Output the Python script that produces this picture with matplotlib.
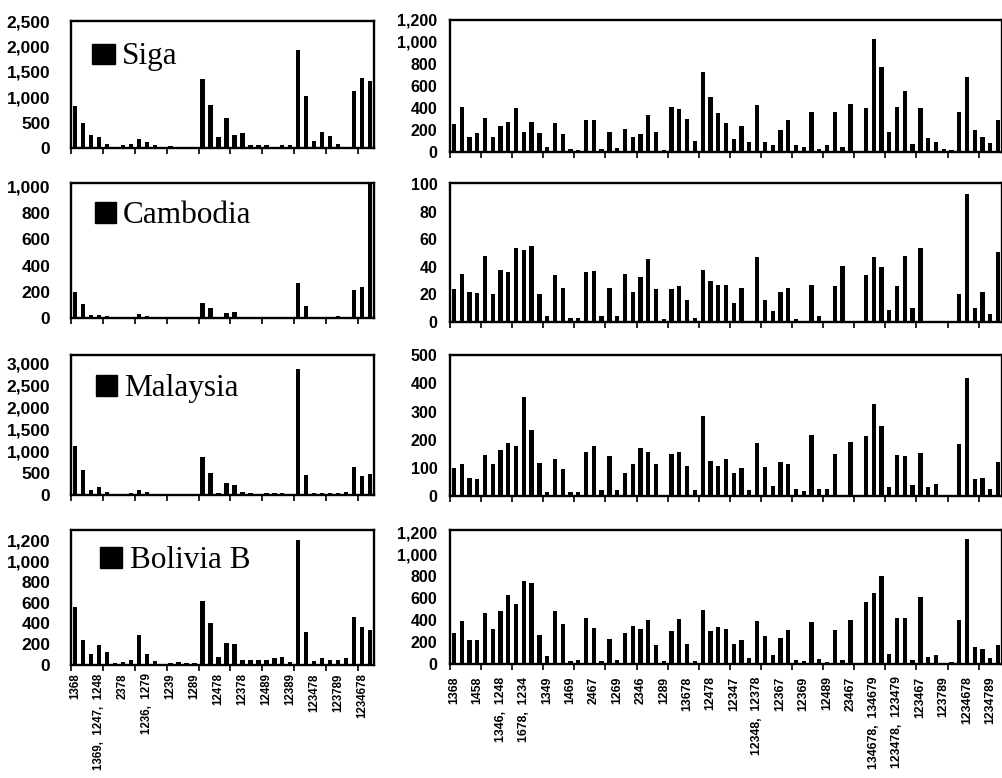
import matplotlib
matplotlib.use("Agg")
import matplotlib.pyplot as plt
from matplotlib.patches import Rectangle
from matplotlib.ticker import FixedLocator, FuncFormatter

W, H = 1003, 778
fig = plt.figure(figsize=(W / 100, H / 100), dpi=100)

countries = ["Siga", "Cambodia", "Malaysia", "Bolivia B"]

left_labels = ["1368", "1369,  1247,  1248", "2378", "1236,  1279", "1239", "1289",
               "12478", "12378", "12489", "12389", "123478", "123789", "1234678"]
right_labels = ["1368", "1458", "1346,  1248", "1678,  1234", "1349", "1469", "2467",
                "1269", "2346", "1289", "13678", "12478", "12347", "12348,  12378",
                "12367", "12369", "12489", "23467", "134678,  134679",
                "123478,  123479", "123467", "123789", "1234678", "1234789"]

siga_left = [830, 500, 250, 220, 80, 20, 50, 70, 170, 120, 50, 10, 30, 20, 5, 15,
             1350, 850, 210, 600, 260, 290, 50, 60, 60, 25, 60, 50,
             1930, 1020, 130, 310, 240, 80, 5, 1120, 1370, 1310]
cambodia_left = [200, 110, 22, 25, 12, 5, 3, 10, 27, 12, 3, 2, 1, 1, 1, 1,
                 115, 74, 2, 37, 44, 4, 4, 3, 3, 4, 4, 3,
                 265, 91, 3, 3, 10, 15, 3, 215, 235, 1040]
malaysia_left = [1120, 570, 120, 190, 60, 25, 15, 40, 120, 60, 15, 5, 5, 5, 5, 5,
                 870, 510, 45, 265, 220, 70, 35, 30, 35, 40, 35, 30,
                 2880, 460, 50, 50, 50, 55, 60, 630, 440, 470]
bolivia_left = [560, 240, 110, 190, 130, 20, 30, 50, 290, 110, 40, 10, 22, 25, 16, 16,
                620, 400, 80, 210, 200, 50, 50, 50, 50, 64, 80, 32,
                1200, 320, 40, 70, 50, 48, 64, 460, 370, 340]

siga_right = [250, 410, 140, 170, 310, 140, 240, 270, 400, 180, 270, 170, 50, 260, 160,
              30, 20, 290, 290, 30, 180, 40, 210, 140, 160, 340, 180, 20, 410, 390,
              300, 100, 730, 500, 350, 260, 120, 240, 90, 430, 90, 60, 200, 290, 60,
              50, 360, 30, 60, 360, 50, 440, 0, 400, 1030, 770, 180, 410, 550, 70,
              400, 130, 90, 30, 20, 360, 680, 200, 140, 80, 290]
cambodia_right = [24, 35, 22, 21, 48, 20, 38, 36, 54, 52, 55, 20, 4, 34, 25, 3, 3, 36,
                  37, 4, 25, 4, 35, 22, 33, 46, 24, 2, 24, 26, 16, 3, 38, 30, 27, 27,
                  14, 25, 0, 47, 16, 8, 22, 25, 2, 0, 27, 4, 0, 26, 41, 0, 1, 34, 47,
                  40, 9, 26, 48, 10, 54, 0, 0, 0, 0, 20, 93, 10, 22, 6, 51]
malaysia_right = [100, 115, 65, 60, 145, 115, 165, 188, 178, 350, 233, 118, 15, 132, 95,
                  15, 15, 158, 178, 20, 143, 20, 82, 115, 170, 158, 115, 5, 150, 158,
                  107, 20, 283, 125, 107, 132, 82, 98, 20, 187, 103, 35, 120, 113, 25,
                  18, 218, 25, 25, 148, 0, 192, 0, 212, 328, 248, 32, 145, 142, 38,
                  152, 32, 42, 0, 0, 186, 420, 60, 65, 25, 120]
bolivia_right = [280, 390, 215, 220, 470, 320, 485, 630, 545, 755, 740, 265, 70, 485, 365,
                 25, 40, 420, 325, 30, 225, 40, 285, 345, 320, 400, 175, 25, 300, 415,
                 185, 30, 490, 305, 335, 320, 180, 220, 55, 395, 255, 85, 235, 315, 35,
                 25, 385, 45, 20, 310, 35, 400, 0, 565, 650, 805, 90, 420, 420, 40,
                 610, 60, 85, 10, 20, 400, 1140, 155, 135, 55, 170]

left_series = [siga_left, cambodia_left, malaysia_left, bolivia_left]
right_series = [siga_right, cambodia_right, malaysia_right, bolivia_right]

left_ymax = [2500, 1030, 3200, 1300]
left_yticks = [range(0, 2501, 500), range(0, 1001, 200), range(0, 3001, 500), range(0, 1201, 200)]
right_ymax = [1200, 101, 501, 1225]
right_yticks = [range(0, 1201, 200), range(0, 101, 20), range(0, 501, 100), range(0, 1201, 200)]

left_rows = [(21, 148), (183, 318), (355, 495), (530, 665)]
right_rows = [(20, 152), (183, 322), (355, 496), (530, 664)]
marker_boxes = [(92, 44, 115, 64), (95, 202, 116, 223), (96, 375, 117, 396), (100, 547, 122, 568)]
name_x = [122, 123, 124, 130]

fmt = FuncFormatter(lambda v, p: f"{int(v):,}")


def make_axes(x0, x1, ytop, ybot):
    return fig.add_axes([x0 / W, 1 - ybot / H, (x1 - x0) / W, (ybot - ytop) / H])


def style(ax, values, ymax, yticks, labels, show_labels, xpad, ypad, ysize, xsize):
    n = len(values)
    ax.bar(range(n), values, width=0.55, color="black", clip_on=False)
    ax.set_ylim(0, ymax)
    ax.set_yticks(list(yticks))
    ax.yaxis.set_major_formatter(fmt)
    ax.tick_params(axis="y", length=0, pad=ypad, labelsize=ysize)
    for t in ax.get_yticklabels():
        t.set_fontfamily("Liberation Sans")
        t.set_fontweight("bold")
    ax.xaxis.set_minor_locator(FixedLocator([-0.5 + 4 * k for k in range((n + 3) // 4)]))
    ax.tick_params(axis="x", which="minor", length=4, width=1.2, direction="out")
    pos = [3 * k for k in range(len(labels))]
    ax.set_xticks(pos)
    if show_labels:
        ax.set_xticklabels(labels, rotation=90, fontsize=xsize, fontweight="bold",
                           fontfamily="Liberation Sans")
    else:
        ax.set_xticklabels([])
    ax.tick_params(axis="x", which="major", length=0, pad=xpad)
    for s in ax.spines.values():
        s.set_linewidth(1.7)
        s.set_color("black")


for i in range(4):
    ytop, ybot = left_rows[i]
    ax = make_axes(71, 374, ytop, ybot)
    ax.set_xlim(-0.5, len(left_series[i]) - 0.5)
    style(ax, left_series[i], left_ymax[i], left_yticks[i], left_labels, i == 3,
          6, 15, 12.5, 8.3)
    bx0, by0, bx1, by1 = marker_boxes[i]
    fig.patches.append(Rectangle((bx0 / W, 1 - by1 / H), (bx1 - bx0) / W, (by1 - by0) / H,
                                 transform=fig.transFigure, color="black"))
    fig.text(name_x[i] / W, 1 - by1 / H, countries[i], fontsize=22.5,
             family="Liberation Serif", va="baseline", ha="left")

    ytop, ybot = right_rows[i]
    ax = make_axes(450, 1002, ytop, ybot)
    ax.set_xlim(-0.5, len(right_series[i]) - 0.5)
    style(ax, right_series[i], right_ymax[i], right_yticks[i], right_labels, i == 3,
          9, 9, 11.5, 8.8)

fig.savefig("out.png", dpi=100)
